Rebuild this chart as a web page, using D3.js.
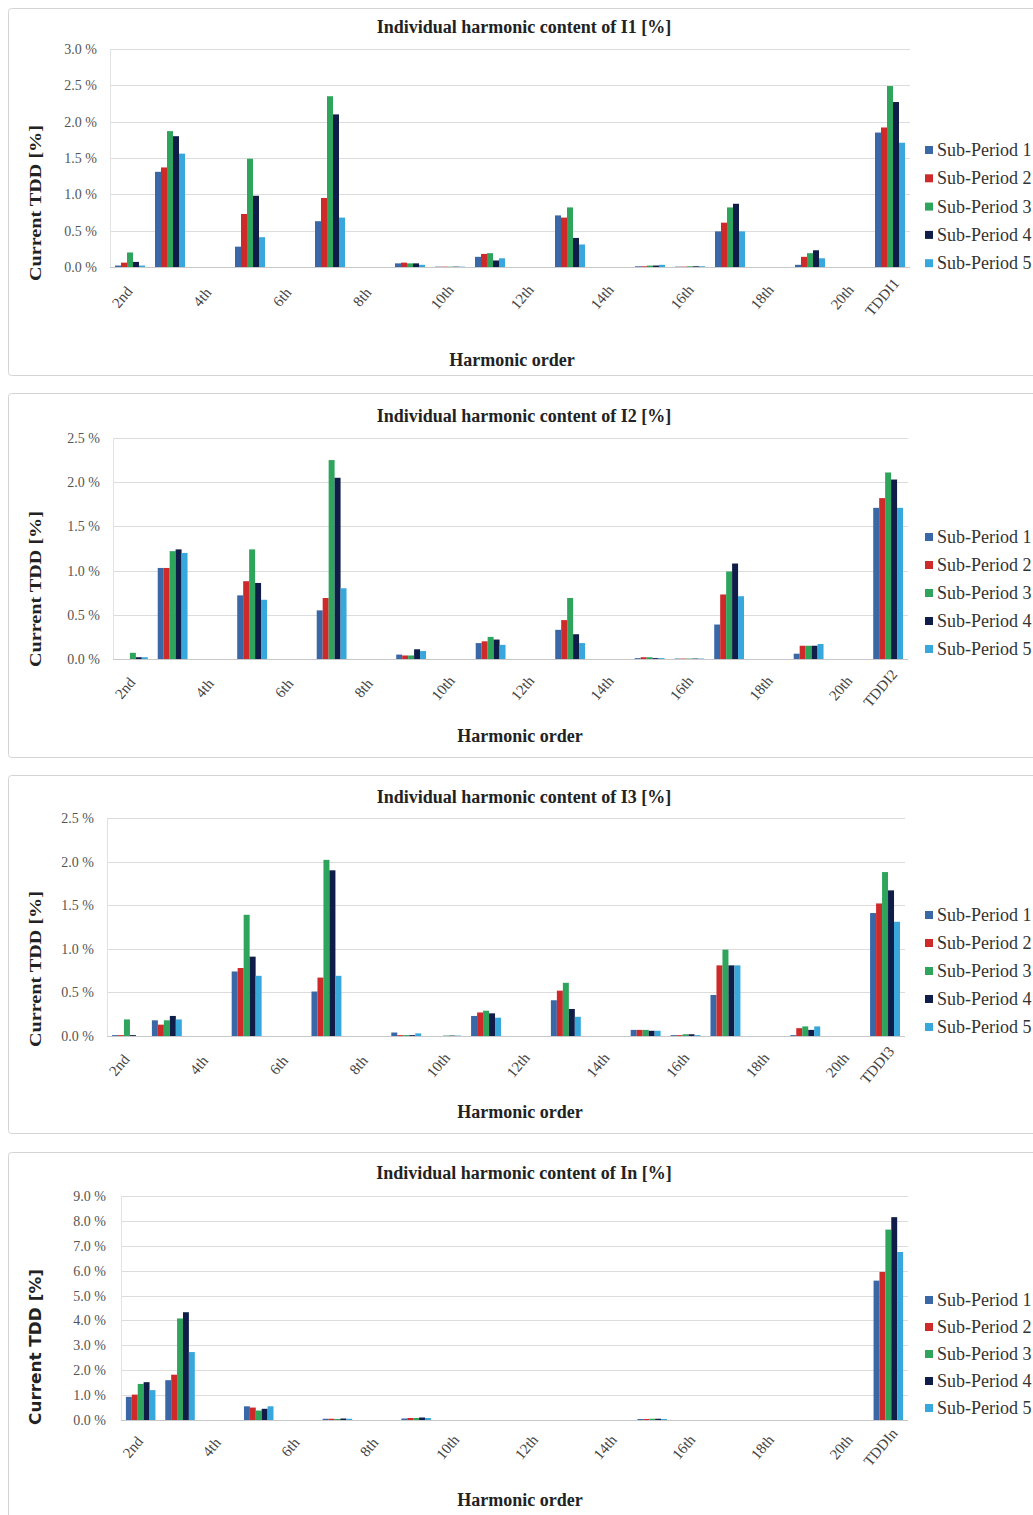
<!DOCTYPE html>
<html>
<head>
<meta charset="utf-8">
<script src="https://cdn.jsdelivr.net/npm/d3@7"></script>
<style>
  body { margin: 0; background: #fff; }
</style>
</head>
<body>
<script>
/*
*    Individual harmonic content, four stacked column charts
*/

// Categories
var harmonicOrders = ["2nd", "3rd", "4th", "5th", "6th", "7th", "8th", "9th", "10th", "11th",
    "12th", "13th", "14th", "15th", "16th", "17th", "18th", "19th", "20th"];
var tddLabels = ["TDDI1", "TDDI2", "TDDI3", "TDDIn"];
var chartTitles = ["Individual harmonic content of I1 [%]", "Individual harmonic content of I2 [%]",
    "Individual harmonic content of I3 [%]", "Individual harmonic content of In [%]"];
var seriesNames = ["Sub-Period 1", "Sub-Period 2", "Sub-Period 3", "Sub-Period 4", "Sub-Period 5"];

// Y axis maxima and tick steps [%]
var yMaxima = [3.0, 2.5, 2.5, 9.0];
var yTickSteps = [0.5, 0.5, 0.5, 1.0];

// Values [%], one row per sub-period, columns 2nd ... 20th, TDD
var i1Values = [
    [0.02, 1.31, 0, 0.28, 0, 0.63, 0, 0.05, 0.005, 0.14, 0, 0.71, 0, 0.01, 0.005, 0.49, 0, 0.03, 0, 1.85],
    [0.06, 1.37, 0, 0.73, 0, 0.95, 0, 0.06, 0.005, 0.18, 0, 0.68, 0, 0.01, 0.005, 0.61, 0, 0.14, 0, 1.92],
    [0.20, 1.87, 0, 1.49, 0, 2.35, 0, 0.05, 0.005, 0.19, 0, 0.82, 0, 0.02, 0.01, 0.82, 0, 0.19, 0, 2.49],
    [0.07, 1.80, 0, 0.98, 0, 2.10, 0, 0.05, 0.005, 0.09, 0, 0.40, 0, 0.02, 0.01, 0.87, 0, 0.23, 0, 2.27],
    [0.02, 1.56, 0, 0.41, 0, 0.68, 0, 0.03, 0.005, 0.12, 0, 0.31, 0, 0.03, 0.01, 0.49, 0, 0.12, 0, 1.71]
];
var i2Values = [
    [0.00, 1.03, 0, 0.72, 0, 0.55, 0, 0.05, 0, 0.18, 0, 0.33, 0, 0.01, 0.005, 0.39, 0, 0.06, 0, 1.71],
    [0.00, 1.03, 0, 0.88, 0, 0.69, 0, 0.04, 0, 0.20, 0, 0.44, 0, 0.02, 0.005, 0.73, 0, 0.15, 0, 1.82],
    [0.07, 1.22, 0, 1.24, 0, 2.25, 0, 0.04, 0, 0.25, 0, 0.69, 0, 0.02, 0.005, 0.99, 0, 0.15, 0, 2.11],
    [0.02, 1.24, 0, 0.86, 0, 2.05, 0, 0.11, 0, 0.22, 0, 0.28, 0, 0.01, 0.005, 1.08, 0, 0.15, 0, 2.03],
    [0.02, 1.20, 0, 0.67, 0, 0.80, 0, 0.09, 0, 0.16, 0, 0.18, 0, 0.01, 0.005, 0.71, 0, 0.17, 0, 1.71]
];
var i3Values = [
    [0.01, 0.18, 0, 0.74, 0, 0.51, 0, 0.04, 0, 0.23, 0, 0.41, 0, 0.07, 0.01, 0.47, 0, 0.01, 0, 1.41],
    [0.01, 0.13, 0, 0.78, 0, 0.67, 0, 0.01, 0, 0.27, 0, 0.52, 0, 0.07, 0.01, 0.81, 0, 0.09, 0, 1.52],
    [0.19, 0.18, 0, 1.39, 0, 2.02, 0, 0.01, 0.005, 0.29, 0, 0.61, 0, 0.07, 0.02, 0.99, 0, 0.11, 0, 1.88],
    [0.01, 0.23, 0, 0.91, 0, 1.90, 0, 0.01, 0.005, 0.26, 0, 0.31, 0, 0.06, 0.02, 0.81, 0, 0.07, 0, 1.67],
    [0.00, 0.19, 0, 0.69, 0, 0.69, 0, 0.03, 0.005, 0.21, 0, 0.22, 0, 0.06, 0.01, 0.81, 0, 0.11, 0, 1.31]
];
var inValues = [
    [0.93, 1.60, 0, 0.55, 0, 0.05, 0, 0.06, 0, 0, 0, 0, 0, 0.04, 0, 0, 0, 0, 0, 5.60],
    [1.02, 1.82, 0, 0.50, 0, 0.05, 0, 0.08, 0, 0, 0, 0, 0, 0.04, 0, 0, 0, 0, 0, 5.95],
    [1.45, 4.08, 0, 0.38, 0, 0.04, 0, 0.08, 0, 0, 0, 0, 0, 0.05, 0, 0, 0, 0, 0, 7.65],
    [1.52, 4.33, 0, 0.45, 0, 0.06, 0, 0.10, 0, 0, 0, 0, 0, 0.05, 0, 0, 0, 0, 0, 8.15],
    [1.20, 2.73, 0, 0.55, 0, 0.05, 0, 0.08, 0, 0, 0, 0, 0, 0.04, 0, 0, 0, 0, 0, 6.75]
];
var chartValues = [i1Values, i2Values, i3Values, inValues];

// Styles
var seriesColors = ["#3a67a6", "#cf2a2a", "#2fa45c", "#0f1d48", "#38a7dc"];
var serif = "'Liberation Serif', 'Times New Roman', serif";

// Panel layouts (pixels)
var panels = [
    { top: 8,    bottom: 375,  titleY: 33,   left: 110, right: 910, plotTop: 49,   plotBottom: 267,
      tickRight: 97,  legendY: 150,  legendStep: 28.3, xTitleY: 366,  yTitleY: 203, labelDy: 30 },
    { top: 393,  bottom: 757,  titleY: 422,  left: 113, right: 908, plotTop: 438,  plotBottom: 659,
      tickRight: 100, legendY: 537,  legendStep: 28,   xTitleY: 742,  yTitleY: 589, labelDy: 29 },
    { top: 775,  bottom: 1133, titleY: 803,  left: 107, right: 905, plotTop: 818,  plotBottom: 1036,
      tickRight: 94,  legendY: 915,  legendStep: 28,   xTitleY: 1118, yTitleY: 969, labelDy: 29 },
    { top: 1152, bottom: 1530, titleY: 1179, left: 121, right: 908, plotTop: 1196, plotBottom: 1420,
      tickRight: 106, legendY: 1300, legendStep: 27,   xTitleY: 1506, yTitleY: 1347, labelDy: 27 }
];

var svg = d3.select("body").append("svg")
    .attr("width", 1033)
    .attr("height", 1515);

panels.forEach(function(p, k) {
    var categories = harmonicOrders.concat([tddLabels[k]]);
    var values = chartValues[k];

    var g = svg.append("g");

    // Frame
    g.append("rect")
        .attr("x", 8.5)
        .attr("y", p.top + 0.5)
        .attr("width", 1040)
        .attr("height", p.bottom - p.top)
        .attr("rx", 3)
        .attr("fill", "#fff")
        .attr("stroke", "#d4d4d4");

    // Scales
    var x0 = d3.scaleBand()
        .domain(categories)
        .range([p.left, p.right])
        .paddingInner(0.25)
        .paddingOuter(0.125);
    var x1 = d3.scaleBand()
        .domain(d3.range(seriesNames.length))
        .range([0, x0.bandwidth()]);
    var y = d3.scaleLinear()
        .domain([0, yMaxima[k]])
        .range([p.plotBottom, p.plotTop]);

    var ticks = d3.range(0, yMaxima[k] + 1e-9, yTickSteps[k]);

    // Gridlines
    g.append("g").selectAll("line")
        .data(ticks)
        .enter().append("line")
        .attr("x1", p.left)
        .attr("x2", p.right)
        .attr("y1", function(d) { return Math.round(y(d)) + 0.5; })
        .attr("y2", function(d) { return Math.round(y(d)) + 0.5; })
        .attr("stroke", function(d) { return d === 0 ? "#c8c8c8" : "#dcdcdc"; })
        .attr("stroke-width", 1.2);

    // Vertical axis line
    g.append("line")
        .attr("x1", p.left + 0.5).attr("x2", p.left + 0.5)
        .attr("y1", p.plotTop).attr("y2", p.plotBottom)
        .attr("stroke", "#e2e2e2");

    // Y axis
    var yAxisCall = d3.axisLeft(y)
        .tickValues(ticks)
        .tickSize(0)
        .tickFormat(function(d) { return d3.format(".1f")(d) + " %"; });
    var yAxis = g.append("g")
        .attr("transform", "translate(" + (p.tickRight + 3) + ",0)")
        .call(yAxisCall);
    yAxis.select(".domain").remove();
    yAxis.selectAll("text")
        .style("font-family", serif)
        .style("font-size", "14px")
        .attr("fill", "#555");

    // Bars
    g.append("g").selectAll("g")
        .data(values)
        .enter().append("g")
        .attr("fill", function(d, s) { return seriesColors[s]; })
        .each(function(row, s) {
            d3.select(this).selectAll("rect")
                .data(row)
                .enter().append("rect")
                .attr("x", function(v, i) { return x0(categories[i]) + x1(s); })
                .attr("width", x1.bandwidth())
                .attr("y", function(v) { return y(v); })
                .attr("height", function(v) { return y(0) - y(v); });
        });

    // X axis labels (every second harmonic plus TDD), centred and rotated
    var xAxisCall = d3.axisBottom(x0)
        .tickSize(0)
        .tickFormat(function(d, i) {
            return (i % 2 === 0 || i === categories.length - 1) ? d : "";
        });
    var xAxis = g.append("g")
        .attr("transform", "translate(0," + p.plotBottom + ")")
        .call(xAxisCall);
    xAxis.select(".domain").remove();
    xAxis.selectAll("text")
        .attr("x", 0)
        .attr("y", 0)
        .attr("dy", "0.35em")
        .attr("text-anchor", "middle")
        .attr("transform", "translate(-8," + p.labelDy + ") rotate(-50)")
        .style("font-family", serif)
        .style("font-size", "15px")
        .attr("fill", "#444");

    // Title
    g.append("text")
        .attr("x", 524)
        .attr("y", p.titleY)
        .attr("text-anchor", "middle")
        .style("font-family", serif)
        .style("font-size", "18px")
        .style("font-weight", "bold")
        .attr("fill", "#222")
        .text(chartTitles[k]);

    // X title
    g.append("text")
        .attr("x", k === 0 ? 512 : 520)
        .attr("y", p.xTitleY)
        .attr("text-anchor", "middle")
        .style("font-family", serif)
        .style("font-size", "18px")
        .style("font-weight", "bold")
        .attr("fill", "#222")
        .text("Harmonic order");

    // Y title (last chart uses a wide sans face)
    g.append("text")
        .attr("transform", "translate(41," + p.yTitleY + ") rotate(-90)")
        .attr("text-anchor", "middle")
        .style("font-family", k === 3 ? "'DejaVu Sans', sans-serif" : serif)
        .style("font-size", k === 3 ? "15px" : "17px")
        .style("font-weight", "bold")
        .attr("fill", "#222")
        .attr("textLength", 156)
        .attr("lengthAdjust", "spacingAndGlyphs")
        .text("Current TDD [%]");

    // Legend
    var legend = g.append("g").selectAll("g")
        .data(seriesNames)
        .enter().append("g")
        .attr("transform", function(d, s) {
            return "translate(925," + (p.legendY + s * p.legendStep) + ")";
        });
    legend.append("rect")
        .attr("x", 0)
        .attr("y", -4)
        .attr("width", 8)
        .attr("height", 8)
        .attr("fill", function(d, s) { return seriesColors[s]; });
    legend.append("text")
        .attr("x", 12)
        .attr("y", 6)
        .style("font-family", serif)
        .style("font-size", "18px")
        .attr("fill", "#333")
        .text(function(d) { return d; });
});
</script>
</body>
</html>
